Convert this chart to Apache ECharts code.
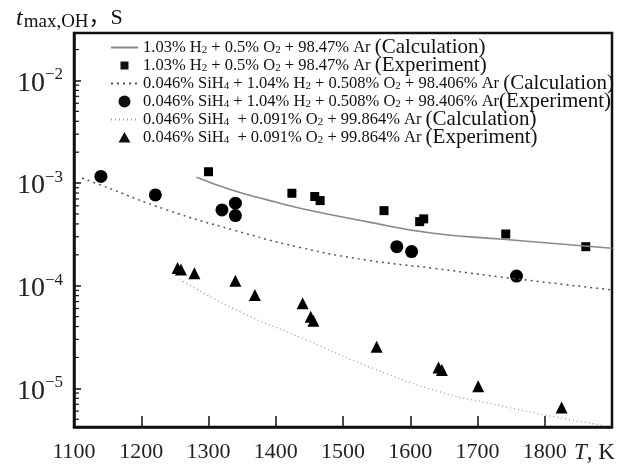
<!DOCTYPE html>
<html>
<head>
<meta charset="utf-8">
<script src="https://cdn.jsdelivr.net/npm/echarts@6/dist/echarts.min.js"></script>
<style>
html, body { margin: 0; padding: 0; background: #fff; }
#chart { width: 640px; height: 470px; }
</style>
</head>
<body>
<div id="chart"></div>
<script>
// values (T in K, t in s)
var sqT = [1300, 1424, 1458, 1466, 1561, 1614, 1620, 1742, 1861];
var sqV = [1.29e-3, 7.96e-4, 7.4e-4, 6.75e-4, 5.39e-4, 4.21e-4, 4.48e-4, 3.19e-4, 2.40e-4];

var circT = [1140, 1221, 1320, 1340, 1340, 1580, 1602, 1758];
var circV = [1.16e-3, 7.67e-4, 5.48e-4, 6.37e-4, 4.82e-4, 2.40e-4, 2.15e-4, 1.24e-4];

var triT = [1254, 1259, 1279, 1340, 1369, 1440, 1452, 1456, 1550, 1642, 1647, 1701, 1825];
var triV = [1.49e-4, 1.44e-4, 1.32e-4, 1.12e-4, 8.1e-5, 6.73e-5, 4.99e-5, 4.56e-5, 2.54e-5, 1.60e-5, 1.51e-5, 1.05e-5, 6.5e-6];

var calcH2T = [1282, 1337, 1387, 1436, 1535, 1634, 1733, 1900];
var calcH2V = [1.14e-3, 8.45e-4, 6.86e-4, 5.69e-4, 4.21e-4, 3.24e-4, 2.85e-4, 2.32e-4];

var calcSiH2T = [1112, 1139, 1238, 1337, 1436, 1535, 1634, 1733, 1900];
var calcSiH2V = [1.12e-3, 9.6e-4, 5.48e-4, 3.49e-4, 2.36e-4, 1.78e-4, 1.48e-4, 1.22e-4, 9.1e-5];

var calcSiT = [1257, 1347, 1446, 1545, 1644, 1743, 1800, 1887];
var calcSiV = [1.15e-4, 5.57e-5, 2.95e-5, 1.56e-5, 9.25e-6, 6.6e-6, 5.5e-6, 4.36e-6];

var xTicks = [1100, 1200, 1300, 1400, 1500, 1600, 1700, 1800];
var minorSteps = [2, 3, 4, 5, 6, 7, 8, 9];
var decades = [1e-6, 1e-5, 1e-4, 1e-3, 1e-2];

var legendText = {
    'c1': '1.03% H{s|2} + 0.5% O{s|2} + 98.47% Ar {p|(Calculation)}',
    'e1': '1.03% H{s|2} + 0.5% O{s|2} + 98.47% Ar {p|(Experiment)}',
    'c2': '0.046% SiH{s|4} + 1.04% H{s|2} + 0.508% O{s|2} + 98.406% Ar {p|(Calculation)}',
    'e2': '0.046% SiH{s|4} + 1.04% H{s|2} + 0.508% O{s|2} + 98.406% Ar{p|(Experiment)}',
    'c3': '0.046% SiH{s|4}  + 0.091% O{s|2} + 99.864% Ar {p|(Calculation)}',
    'e3': '0.046% SiH{s|4}  + 0.091% O{s|2} + 99.864% Ar {p|(Experiment)}'
};

var yMin = 4.2e-6, yMax = 0.029;
var serif = '"Liberation Serif", "Times New Roman", serif';

function pairs(xs, ys) {
    return xs.map(function (x, i) { return [x, ys[i]]; });
}

var minorTicks = [];
decades.forEach(function (d) {
    minorSteps.forEach(function (m) {
        var v = d * m;
        if (v > yMin && v < yMax) minorTicks.push([1100, v]);
    });
});

// legend icons: 27x12 box so the marker keeps its size and sits in the middle
var iconSquare = 'path://M0,0M27,12M9.5,2h8v8h-8z';
var iconCircle = 'path://M0,0M27,12M7.5,6a6,6 0 1,0 12,0a6,6 0 1,0 -12,0z';
var iconTriangle = 'path://M0,0M27,12M13.5,0.5L19.5,11L7.5,11z';

var chart = echarts.init(document.getElementById('chart'));

var option = {
    backgroundColor: '#fff',
    animation: false,
    title: {
        text: '{i|t}{s|max,OH}{n|，S}',
        left: 11,
        top: 0,
        textStyle: {
            fontWeight: 'normal',
            rich: {
                i: { fontFamily: serif, fontStyle: 'italic', fontWeight: 'normal', fontSize: 24, color: '#111' },
                s: { fontFamily: serif, fontWeight: 'normal', fontSize: 19, color: '#111', verticalAlign: 'bottom', padding: [8, 0, 0, 1] },
                n: { fontFamily: serif + ', "Noto Sans CJK SC"', fontWeight: 'normal', fontSize: 22, color: '#111' }
            }
        }
    },
    grid: {
        left: 74, right: 28, top: 33, bottom: 43,
        show: true,
        borderColor: '#111',
        borderWidth: 2.5
    },
    legend: {
        orient: 'vertical',
        left: 110,
        top: 37,
        padding: 0,
        itemGap: -3,
        itemWidth: 27,
        itemHeight: 12,
        selectedMode: false,
        data: [
            { name: 'c1', itemStyle: { opacity: 0 } },
            { name: 'e1', icon: iconSquare, itemStyle: { opacity: 1, color: '#111' } },
            { name: 'c2', itemStyle: { opacity: 0 } },
            { name: 'e2', icon: iconCircle, itemStyle: { opacity: 1, color: '#111' } },
            { name: 'c3', itemStyle: { opacity: 0 } },
            { name: 'e3', icon: iconTriangle, itemStyle: { opacity: 1, color: '#111' } }
        ],
        formatter: function (name) { return legendText[name]; },
        textStyle: {
            fontFamily: serif,
            fontSize: 16.5,
            color: '#111',
            lineHeight: 16,
            rich: {
                s: { fontFamily: serif, fontSize: 11, color: '#111', verticalAlign: 'bottom', lineHeight: 16 },
                p: { fontFamily: serif, fontSize: 21, color: '#111', lineHeight: 16 }
            }
        }
    },
    xAxis: {
        type: 'value',
        min: 1100,
        max: 1900,
        interval: 100,
        axisLine: { lineStyle: { color: '#111', width: 2.5 } },
        axisTick: { inside: true, length: 11, lineStyle: { color: '#111', width: 1.5 } },
        splitLine: { show: false },
        axisLabel: {
            margin: 14,
            fontFamily: serif,
            fontSize: 22,
            color: '#222',
            formatter: function (v) { return xTicks.indexOf(v) >= 0 ? String(v) : ''; }
        },
        name: '{i|T}, K',
        nameLocation: 'end',
        nameGap: -38,
        nameTextStyle: {
            fontFamily: serif,
            fontSize: 23,
            color: '#222',
            verticalAlign: 'top',
            padding: [14, 0, 0, 0],
            rich: {
                i: { fontFamily: serif, fontStyle: 'italic', fontSize: 23, color: '#222' }
            }
        }
    },
    yAxis: {
        type: 'log',
        logBase: 10,
        min: yMin,
        max: yMax,
        axisLine: { lineStyle: { color: '#111', width: 2.5 } },
        axisTick: { inside: true, length: 7, lineStyle: { color: '#111', width: 1.5 } },
        splitLine: { show: false },
        axisLabel: {
            margin: 11,
            formatter: function (v) {
                var e = Math.log(v) / Math.LN10;
                var r = Math.round(e);
                if (Math.abs(e - r) > 1e-6) return '';
                return '{b|10}{s|\u2212' + (-r) + '}';
            },
            rich: {
                b: { fontFamily: serif, fontSize: 28, color: '#222', lineHeight: 28, padding: [6, 0, 0, 0] },
                s: { fontFamily: serif, fontSize: 17, color: '#222', verticalAlign: 'top', lineHeight: 17 }
            }
        }
    },
    series: [
        {
            name: 'c1', type: 'line', data: pairs(calcH2T, calcH2V),
            smooth: true, symbol: 'none', showSymbol: false,
            itemStyle: { color: '#888' },
            lineStyle: { color: '#888', width: 1.6, type: 'solid' }
        },
        {
            name: 'e1', type: 'scatter', data: pairs(sqT, sqV),
            symbol: 'rect', symbolSize: 9,
            itemStyle: { color: '#000', opacity: 1 }
        },
        {
            name: 'c2', type: 'line', data: pairs(calcSiH2T, calcSiH2V),
            smooth: true, symbol: 'none', showSymbol: false,
            itemStyle: { color: '#555' },
            lineStyle: { color: '#555', width: 1.5, type: [2, 4] }
        },
        {
            name: 'e2', type: 'scatter', data: pairs(circT, circV),
            symbol: 'circle', symbolSize: 13,
            itemStyle: { color: '#000', opacity: 1 }
        },
        {
            name: 'c3', type: 'line', data: pairs(calcSiT, calcSiV),
            smooth: true, symbol: 'none', showSymbol: false,
            itemStyle: { color: '#999' },
            lineStyle: { color: '#999', width: 1.3, type: [1, 3] }
        },
        {
            name: 'e3', type: 'scatter', data: pairs(triT, triV),
            symbol: 'triangle', symbolSize: 12,
            itemStyle: { color: '#000', opacity: 1 }
        },
        {
            // minor log ticks on the left axis
            type: 'custom',
            silent: true,
            data: minorTicks,
            renderItem: function (params, api) {
                var p = api.coord([api.value(0), api.value(1)]);
                return {
                    type: 'line',
                    shape: { x1: p[0], y1: p[1], x2: p[0] + 5, y2: p[1] },
                    style: { stroke: '#111', lineWidth: 1.2 }
                };
            }
        }
    ]
};

chart.setOption(option);
</script>
</body>
</html>
